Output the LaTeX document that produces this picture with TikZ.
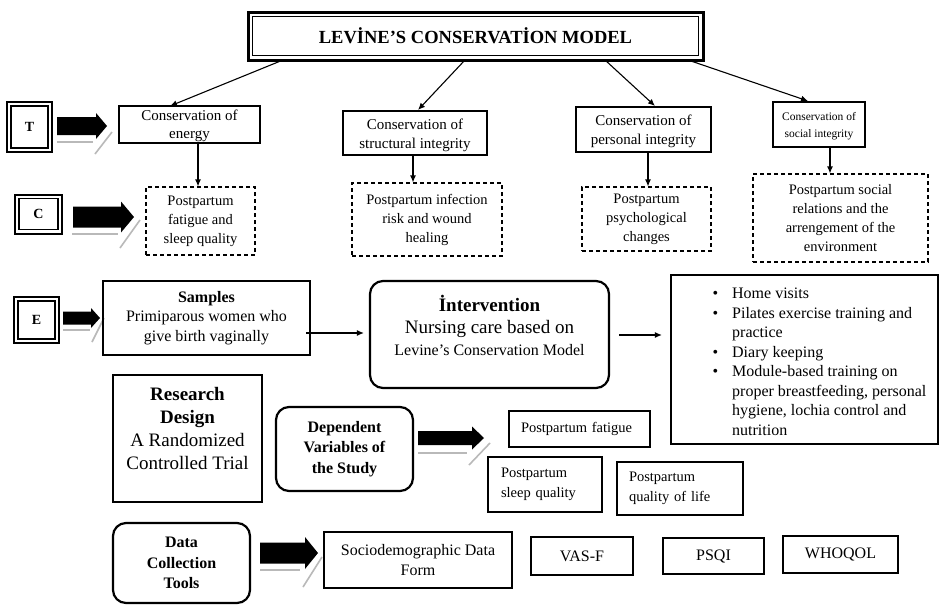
\documentclass[tikz,border=0pt]{standalone}
\usepackage{fontspec}
\setmainfont{Liberation Serif}
\usetikzlibrary{arrows.meta,calc}
\newcommand\blockarrow[6]{%
\fill[black] ({#1},{#2-#4/2}) -- ({#3-#6},{#2-#4/2}) -- ({#3-#6},{#2-#5/2}) -- ({#3},{#2}) -- ({#3-#6},{#2+#5/2}) -- ({#3-#6},{#2+#4/2}) -- ({#1},{#2+#4/2}) -- cycle;}
\newcommand\fsz[1]{\fontsize{#1pt}{1.22\dimexpr#1pt\relax}\selectfont}
\newcommand\fszl[2]{\fontsize{#1pt}{#2pt}\selectfont}
\begin{document}
\begin{tikzpicture}[x=1pt,y=-1pt,
  thinbox/.style={draw, line width=1.1pt, inner sep=0pt, align=center},
  dbox/.style={draw, line width=1.1pt, dash pattern=on 4pt off 3pt, inner sep=0pt, align=center},
  thickbox/.style={draw, line width=2.2pt, inner sep=0pt, align=center},
  rbox/.style={draw, line width=2.2pt, rounded corners=13pt, inner sep=0pt, align=center},
  txt/.style={inner sep=0pt, align=center},
  conn/.style={line width=1.1pt, -{Latex[length=7pt,width=6pt]}},
  shade/.style={gray!55, line width=1.6pt},
  letter/.style={draw, line width=2pt, inner sep=0pt, font=\fsz{14}\bfseries}
]
\useasboundingbox (0,0) rectangle (941,605);
\fill[white] (0,0) rectangle (941,605);

% Title
\node[draw, line width=3pt, minimum width=455pt, minimum height=48pt, inner sep=0pt, font=\fsz{18.5}\bfseries] (title) at (475.5,36) {LEVİNE’S CONSERVATİON MODEL};
\draw[line width=1.5pt] ([shift={(6,6)}]title.north west) rectangle ([shift={(-6,-6)}]title.south east);

% Top boxes
\node[thinbox, minimum width=141pt, minimum height=37pt] (energy) at (189.5,124.5) {};
\node[txt, font=\fszl{15}{18}] (energytxt) at ([yshift=-1pt]energy.center) {Conservation of\\energy};
\node[thinbox, minimum width=144pt, minimum height=44pt] (struct) at (415,133) {};
\node[txt, font=\fszl{15}{19.5}] (structtxt) at ([yshift=-2.5pt]struct.center) {Conservation of\\structural integrity};
\node[thinbox, minimum width=135pt, minimum height=45pt] (personal) at (643.5,129.5) {};
\node[txt, font=\fszl{15}{19.5}] (personaltxt) at ([yshift=-2pt]personal.center) {Conservation of\\personal integrity};
\node[thinbox, minimum width=92pt, minimum height=45pt] (social) at (819,124.5) {};
\node[txt, font=\fszl{11.5}{17}] (socialtxt) at ([yshift=-1.5pt]social.center) {Conservation of\\social integrity};

% Dashed boxes
\node[dbox, minimum width=109pt, minimum height=68pt, font=\fszl{14.5}{19}] (denergy) at (200.5,221) {Postpartum\\fatigue and\\sleep quality};
\node[dbox, minimum width=150pt, minimum height=73pt, font=\fszl{14.5}{19}] (dstruct) at (427,219.5) {Postpartum infection\\risk and wound\\healing};
\node[dbox, minimum width=129pt, minimum height=64pt, font=\fszl{14.5}{19}] (dpersonal) at (646.5,219) {Postpartum\\psychological\\changes};
\node[dbox, minimum width=175pt, minimum height=88pt, font=\fszl{14.5}{19}] (dsocial) at (840.5,218) {Postpartum social\\relations and the\\arrengement of the\\environment};

% Title arrows
\coordinate (t1) at (283,60); \coordinate (e1) at (170,106);
\coordinate (t2) at (465,60); \coordinate (e2) at (418,110);
\coordinate (t3) at (605,60); \coordinate (e3) at (655,106);
\coordinate (t4) at (688,60); \coordinate (e4) at (808,101);
\draw[conn] (t1) -- (e1);
\draw[conn] (t2) -- (e2);
\draw[conn] (t3) -- (e3);
\draw[conn] (t4) -- (e4);

% Down arrows
\coordinate (x1) at (198,0); \coordinate (x2) at (413,0);
\coordinate (x3) at (648,0); \coordinate (x4) at (830,0);
\draw[conn] (energy.south -| x1) -- (denergy.north -| x1);
\draw[conn] (struct.south -| x2) -- (dstruct.north -| x2);
\draw[conn] (personal.south -| x3) -- (dpersonal.north -| x3);
\draw[conn] (social.south -| x4) -- (dsocial.north -| x4);

% Letter boxes
\node[letter, minimum width=45pt, minimum height=50pt] (T) at (29.5,127) {T};
\draw[line width=1.2pt] ([shift={(5,5)}]T.north west) rectangle ([shift={(-5,-5)}]T.south east);
\node[letter, minimum width=47pt, minimum height=39pt] (C) at (38.5,214) {C};
\draw[line width=1.2pt] ([shift={(5,5)}]C.north west) rectangle ([shift={(-5,-5)}]C.south east);
\node[letter, minimum width=45pt, minimum height=46pt] (E) at (36.5,320) {E};
\draw[line width=1.2pt] ([shift={(5,5)}]E.north west) rectangle ([shift={(-5,-5)}]E.south east);

% Block arrows with shading
\blockarrow{57}{126}{107}{18}{26}{11}
\draw[shade] (57,142) -- (93,142); \draw[shade] (95,154) -- (112,132);
\blockarrow{73}{217}{134}{21}{31}{13}
\draw[shade] (72,234) -- (118,234); \draw[shade] (120,248) -- (140,220);
\blockarrow{63}{318}{100}{13}{20}{9}
\draw[shade] (63,330) -- (90,330); \draw[shade] (92,342) -- (104,318);
\blockarrow{418}{438}{484}{14}{23}{12}
\draw[shade] (418,453) -- (467,453); \draw[shade] (469,465) -- (490,443);
\blockarrow{260}{553}{318}{21}{32}{13}
\draw[shade] (260,570) -- (300,570); \draw[shade] (303,587) -- (322,557);

% Samples
\node[thickbox, minimum width=207pt, minimum height=74pt, font=\fsz{16}] (samples) at (206.5,318) {\textbf{Samples}\\Primiparous women who\\give birth vaginally};

% Intervention
\node[rbox, minimum width=239pt, minimum height=107pt] (interv) at (489.5,334.5) {};
\node[txt, anchor=north, font=\fszl{19}{22}] (intervtxt) at (489.5,295) {\textbf{İntervention}\\Nursing care based on\\{\fsz{16}Levine’s Conservation Model}};

% Bullet box
\node[thickbox, minimum width=267pt, minimum height=169pt] (bullets) at (804.5,359.5) {};
\node[txt, anchor=north west, align=left, font=\fsz{16}, text depth=0pt] (bultxt) at (732,288) {%
\llap{\textbullet\hspace{14pt}}Home visits\\
\llap{\textbullet\hspace{14pt}}Pilates exercise training and\\
practice\\
\llap{\textbullet\hspace{14pt}}Diary keeping\\
\llap{\textbullet\hspace{14pt}}Module-based training on\\
proper breastfeeding, personal\\
hygiene, lochia control and\\
nutrition};

\coordinate (ys) at (0,333);
\coordinate (yi) at (0,335);
\draw[conn, shorten <=-5pt, shorten >=5pt] (samples.east |- ys) -- (interv.west |- ys);
\draw[conn, shorten <=9pt, shorten >=8pt] (interv.east |- yi) -- (bullets.west |- yi);

% Research design
\node[thickbox, minimum width=149pt, minimum height=127pt] (research) at (187.5,438.5) {};
\node[txt, anchor=north, font=\fsz{19}, text depth=0pt] (restxt) at (187.5,387) {\textbf{Research}\\\textbf{Design}\\A Randomized\\Controlled Trial};

% Dependent
\node[rbox, minimum width=137pt, minimum height=84pt, font=\fszl{16}{20.5}\bfseries] (dep) at (344.5,449) {Dependent\\Variables of\\the Study};

% Dependent variables
\node[thickbox, minimum width=141pt, minimum height=36pt, font=\fsz{14.5}, text width=117pt, inner xsep=12pt, align=left] (pf) at (579.5,429) {Postpartum fatigue};
\node[thickbox, minimum width=114pt, minimum height=55pt, font=\fszl{14.5}{19.5}, text width=88pt, inner xsep=13pt, align=left] (ps) at (545,484.5) {Postpartum\\sleep quality};
\node[thickbox, minimum width=126pt, minimum height=53pt, font=\fszl{14.5}{19.5}, text width=102pt, inner xsep=12pt, align=left] (pq) at (680,488.5) {Postpartum\\quality of life};

% Data collection
\node[rbox, minimum width=137pt, minimum height=80pt, font=\fszl{16}{20.5}\bfseries] (data) at (181.5,563) {Data\\Collection\\Tools};
\node[thickbox, minimum width=188pt, minimum height=56pt, font=\fsz{16}] (socio) at (418,560) {Sociodemographic Data\\Form};
\node[thickbox, minimum width=102pt, minimum height=38pt, font=\fsz{16}] (vas) at (582,556) {VAS-F};
\node[thickbox, minimum width=101pt, minimum height=36pt, font=\fsz{16}] (psqi) at (713.5,556) {PSQI};
\node[thickbox, minimum width=115pt, minimum height=37pt, font=\fsz{16}] (whoqol) at (840.5,554.5) {WHOQOL};
\end{tikzpicture}
\end{document}
